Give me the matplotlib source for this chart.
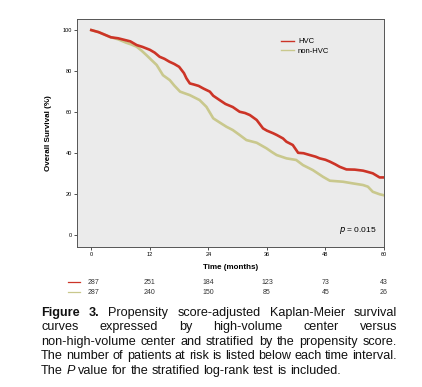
import matplotlib
matplotlib.use("Agg")
import matplotlib.pyplot as plt
from matplotlib.lines import Line2D
from matplotlib.transforms import blended_transform_factory

plt.rcParams['font.family'] = ['Liberation Sans', 'DejaVu Sans']

# --- dados ---
hvc_t = [0, 1.5, 3, 4, 5.5, 7, 8, 9.3, 10.5, 12, 13, 14, 15, 16, 17, 18, 19, 19.5, 20.2, 21,
         22, 23, 24.3, 25, 26.3, 27.5, 29, 30.4, 31.5, 32.5, 33.9, 35.2, 36, 37.3, 38,
         39.3, 40, 41.3, 42.4, 43.5, 44.8, 46, 46.8, 48, 48.9, 50, 50.9, 52.3, 54, 55.7,
         56.5, 57.7, 59.1, 60]
hvc_s = [100, 99, 97.5, 96.5, 96, 95.1, 94.5, 92.7, 91.8, 90.4, 89, 87, 86, 84.6, 83.5,
         82.1, 79, 76.5, 74, 73.5, 72.8, 71.5, 70, 68, 65.9, 64, 62.5, 60.2, 59.6, 58.6,
         56.2, 52.1, 51, 49.7, 48.9, 47.2, 45.6, 44, 40.2, 40, 39.1, 38.3, 37.5, 36.8, 35.9,
         34.6, 33.4, 32.1, 32, 31.5, 31, 30.2, 28.2, 28.2]

non_t = [0, 1.5, 3, 4, 5.5, 7.2, 8.2, 9.3, 10.3, 11.3, 12.3, 13.4, 14.7, 16.1, 17, 18.2,
         20.2, 22.2, 23.6, 25, 26.3, 27.7, 29, 30.4, 31.8, 33.9, 35.9, 37, 38, 40, 42,
         43.4, 45.4, 47.5, 48.9, 51.6, 53.6, 55.7, 56.7, 57.7, 59.1, 60]
non_s = [100, 99, 97.5, 96.5, 95.5, 93.8, 93, 91.9, 90, 87.8, 85.5, 83, 78, 75.6, 73, 70,
         68.3, 65.9, 62.6, 57, 55, 52.9, 51.3, 48.9, 46.4, 45.1, 42.4, 40.6, 39.1, 37.5,
         36.7, 34.2, 31.8, 28.5, 26.6, 26.1, 25.3, 24.5, 23.7, 21.2, 20, 19.5]

x_ticks = [0, 12, 24, 36, 48, 60]
y_ticks = [0, 20, 40, 60, 80, 100]
risk_hvc = [287, 251, 184, 123, 73, 43]
risk_non = [287, 240, 150, 85, 45, 26]

RED = '#CC3427'
GREEN = '#C9C88D'
W, H = 422, 387

caption = [
    [("Figure", "bold"), ("3.", "bold"), ("Propensity", ""), ("score-adjusted", ""),
     ("Kaplan-Meier", ""), ("survival", "")],
    [("curves", ""), ("expressed", ""), ("by", ""), ("high-volume", ""), ("center", ""),
     ("versus", "")],
    [(w, "") for w in "non-high-volume center and stratified by the propensity score.".split()],
    [(w, "") for w in "The number of patients at risk is listed below each time interval.".split()],
    [("The", ""), ("P", "italic"), ("value", ""), ("for", ""), ("the", ""), ("stratified", ""),
     ("log-rank", ""), ("test", ""), ("is", ""), ("included.", "")],
]

fig = plt.figure(figsize=(W / 100, H / 100), dpi=100)
fig.patch.set_facecolor('white')
ax = fig.add_axes([77 / W, 1 - 247 / H, 307 / W, 228 / H])
ax.set_facecolor('#EBEBEB')

ax.plot(non_t, non_s, color=GREEN, lw=1.9, label='non-HVC')
ax.plot(hvc_t, hvc_s, color=RED, lw=1.9, label='HVC')

ax.set_xlim(-2.93, 60)
ax.set_ylim(-5.7, 105.4)
ax.set_xticks(x_ticks)
ax.set_yticks(y_ticks)
ax.tick_params(labelsize=4, length=2, width=0.6, color='#333333', pad=1.5)
for sp in ax.spines.values():
    sp.set_edgecolor('#555555')
    sp.set_linewidth(0.7)

ax.set_ylabel("Overall Survival (%)", fontsize=5.8, fontweight='bold', labelpad=8)
ax.set_xlabel("Time (months)", fontsize=5.8, fontweight='bold', labelpad=5)

h = [Line2D([], [], color=RED, lw=1.0), Line2D([], [], color=GREEN, lw=1.0)]
ax.legend(h, ["HVC", "non-HVC"], loc='upper left', bbox_to_anchor=(0.655, 0.93),
          frameon=False, fontsize=5.5, handlelength=1.7, handletextpad=0.5,
          labelspacing=0.25, borderaxespad=0)

ax.text(0.975, 0.05, "$p$ = 0.015", transform=ax.transAxes, ha='right', va='bottom',
        fontsize=6)

# tabela de pacientes em risco
tr = blended_transform_factory(ax.transData, fig.transFigure)
for vals, col, yp in [(risk_hvc, RED, 282), (risk_non, GREEN, 292)]:
    yf = 1 - yp / H
    fig.add_artist(Line2D([68 / W, 80 / W], [yf, yf], color=col, lw=0.9))
    for t, v in zip(x_ticks, vals):
        xx = t + 0.5 if t == 0 else t
        fig.text(xx, yf, str(v), transform=tr, ha='center', va='center', fontsize=5,
                 color='#333333')

# legenda da figura, justificada
left, right = 41, 397
renderer = fig.canvas.get_renderer()


def width_px(txt, fs, weight='normal', style='normal'):
    t = fig.text(0, 0, txt, fontsize=fs, fontweight=weight, fontstyle=style)
    w = t.get_window_extent(renderer).width
    t.remove()
    return w


# tamanho da fonte ajustado para a linha 4 ocupar toda a largura
ref_line = "The number of patients at risk is listed below each time interval."
fs = 10 * (right - left) / width_px(ref_line, 10)

space = width_px("n n", fs) - width_px("nn", fs)
# linhas de base em pixels inteiros (evita saltos de 1px entre palavras)
baselines = [316, 330, 345, 359, 374]
for i, (words, yp) in enumerate(zip(caption, baselines)):
    widths = []
    for w, st in words:
        widths.append(width_px(w, fs, 'bold' if st == 'bold' else 'normal',
                               'italic' if st == 'italic' else 'normal'))
    if i < len(caption) - 1:
        gap = (right - left - sum(widths)) / (len(words) - 1)
    else:
        gap = space
    x = left
    for (w, st), wd in zip(words, widths):
        fig.text(x / W, 1 - yp / H, w, fontsize=fs, va='baseline', ha='left',
                 fontweight='bold' if st == 'bold' else 'normal',
                 fontstyle='italic' if st == 'italic' else 'normal', color='#111111')
        x += wd + gap

fig.savefig("out.png", dpi=100)
